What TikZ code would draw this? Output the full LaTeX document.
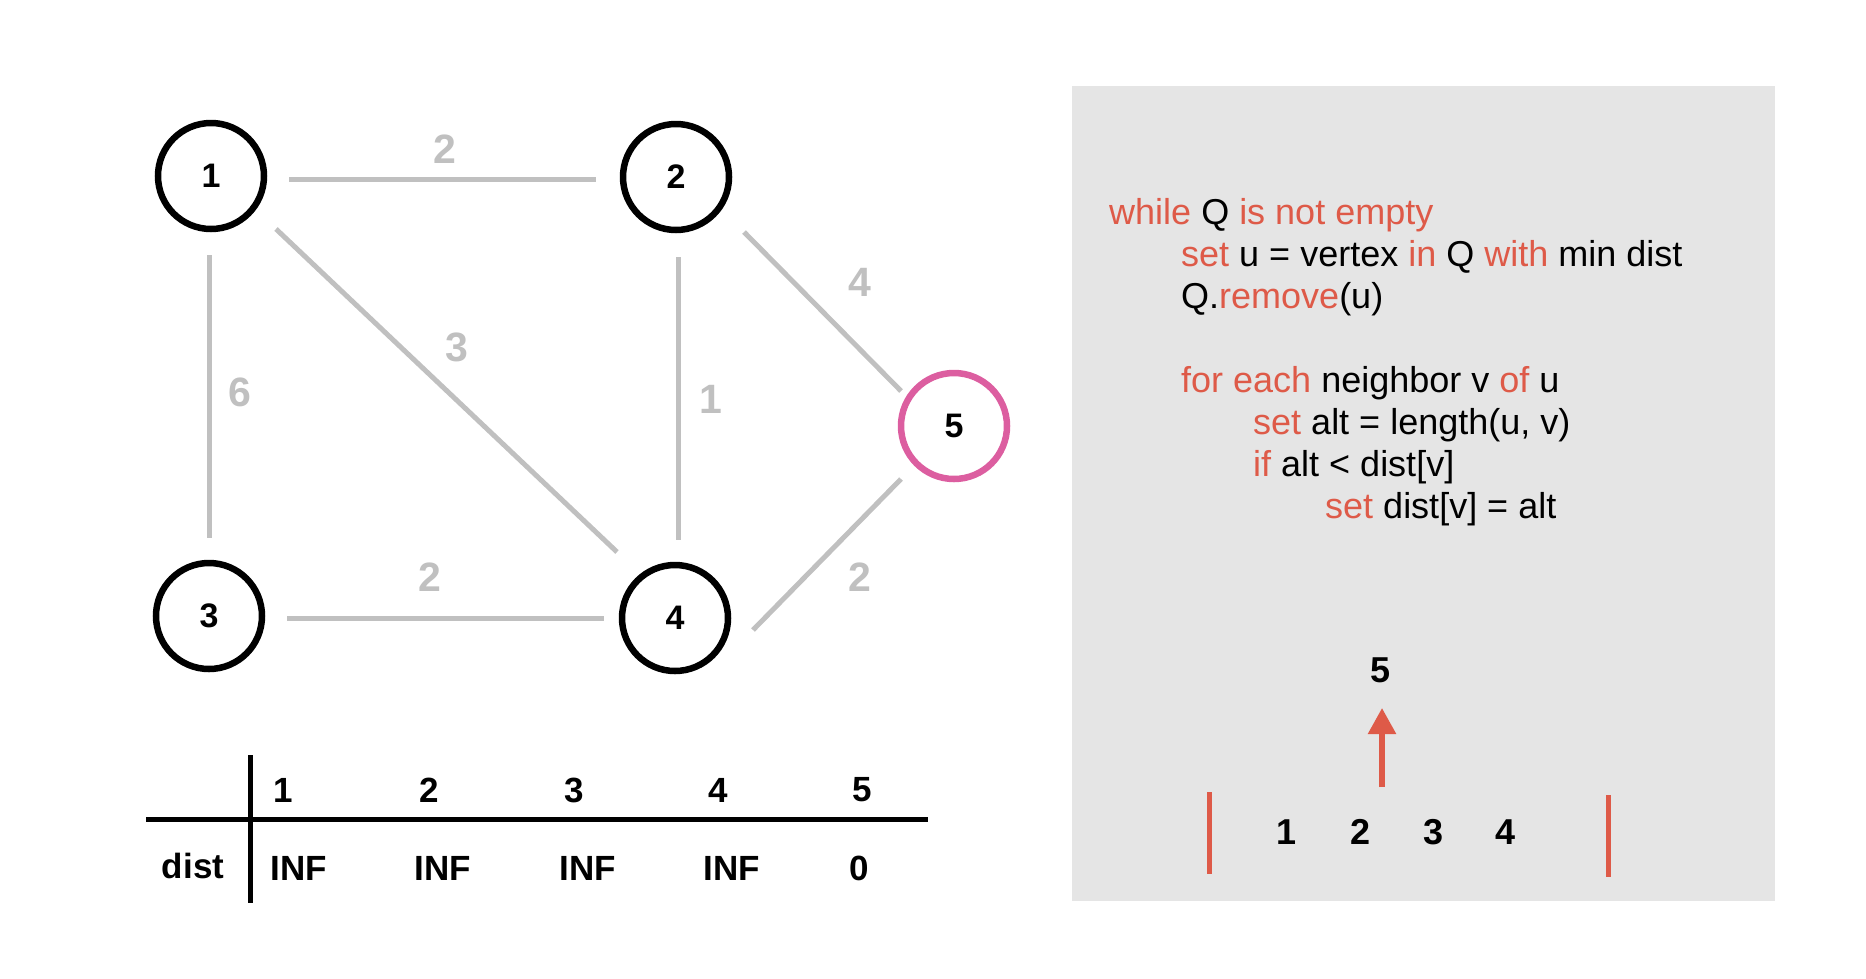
\documentclass[tikz,border=0pt]{standalone}
\usepackage{fontspec}
\setmainfont{Liberation Sans}
\usetikzlibrary{arrows.meta,calc}
\definecolor{codered}{HTML}{DE5A48}
\definecolor{pinkring}{HTML}{DC5EA0}
\definecolor{edgegrey}{HTML}{C0C0C0}
\definecolor{panelgrey}{HTML}{E5E5E5}
\begin{document}
\begin{tikzpicture}[x=1pt,y=-1pt,
  vert/.style={circle,draw=black,line width=6.5pt,minimum size=106pt,inner sep=0pt,
    font=\fontsize{34}{34}\selectfont\bfseries},
  edge/.style={draw=edgegrey,line width=5pt},
  wlabel/.style={text=edgegrey,font=\fontsize{41}{41}\selectfont\bfseries,inner sep=0pt},
  tabtext/.style={font=\fontsize{35}{35}\selectfont\bfseries,inner sep=0pt},
  tabline/.style={draw=black,line width=5pt},
  codeline/.style={anchor=base west,inner sep=0pt,font=\fontsize{36}{36}\selectfont},
  qnum/.style={font=\fontsize{36}{36}\selectfont\bfseries,inner sep=0pt},
  qbar/.style={draw=codered,line width=5pt}
]
\useasboundingbox (0,0) rectangle (1866,978);
\newcommand{\kw}[1]{\textcolor{codered}{#1}}

% panel
\fill[panelgrey] (1072,86) rectangle (1775,901);

% vertices
\node[vert] (n1) at (211,176) {1};
\node[vert] (n2) at (676,177) {2};
\node[vert] (n3) at (209,616) {3};
\node[vert] (n4) at (675,618) {4};
\node[vert,draw=pinkring] (n5) at (954,426) {5};

% edges
\draw[edge] ($(n1)+(78,3)$) -- ($(n2)+(-80,2)$);
\draw[edge] ($(n1)+(-2,79)$) -- ($(n3)+(0,-78)$);
\draw[edge] ($(n1)+(65,53)$) -- ($(n4)+(-58,-66)$);
\draw[edge] ($(n2)+(2,80)$) -- ($(n4)+(3,-78)$);
\draw[edge] ($(n2)+(68,55)$) -- ($(n5)+(-53,-35)$);
\draw[edge] ($(n3)+(78,2)$) -- ($(n4)+(-71,0)$);
\draw[edge] ($(n4)+(78,12)$) -- ($(n5)+(-53,53)$);

% weights
\node[wlabel] (w12) at (445,149) {2};
\node[wlabel] (w13) at (240,392) {6};
\node[wlabel] (w14) at (457,347) {3};
\node[wlabel] (w24) at (711,399) {1};
\node[wlabel] (w25) at (860,282) {4};
\node[wlabel] (w34) at (430,577) {2};
\node[wlabel] (w45) at (860,577) {2};

% table
\coordinate (vt) at (250,755);
\coordinate (vb) at (250,903);
\coordinate (hl) at (146,819);
\coordinate (hr) at (928,819);
\draw[tabline] (vt) -- (vb);
\draw[tabline] (hl) -- (hr);
\node[tabtext] (h1) at (283,790) {1};
\node[tabtext] (h2) at (429,790) {2};
\node[tabtext] (h3) at (574,790) {3};
\node[tabtext] (h4) at (718,790) {4};
\node[tabtext] (h5) at (862,790) {5};
\node[tabtext] (dl) at (193,866) {dist};
\node[tabtext] (d1) at (299,868) {INF};
\node[tabtext] (d2) at (443,868) {INF};
\node[tabtext] (d3) at (588,868) {INF};
\node[tabtext] (d4) at (732,868) {INF};
\node[tabtext] (d5) at (859,868) {0};

% code
\node[codeline] (c1) at (1109,224) {\kw{while} Q \kw{is not empty}};
\node[codeline] (c2) at (1181,266) {\kw{set} u = vertex \kw{in} Q \kw{with} min dist};
\node[codeline] (c3) at (1181,308) {Q.\kw{remove}(u)};
\node[codeline] (c4) at (1181,392) {\kw{for each} neighbor v \kw{of} u};
\node[codeline] (c5) at (1253,434) {\kw{set} alt = length(u, v)};
\node[codeline] (c6) at (1253,476) {\kw{if} alt < dist[v]};
\node[codeline] (c7) at (1325,518) {\kw{set} dist[v] = alt};

% queue
\coordinate (bl1) at (1209,792);
\coordinate (bl2) at (1209,874);
\coordinate (br1) at (1608,795);
\coordinate (br2) at (1608,877);
\draw[qbar] (bl1) -- (bl2);
\draw[qbar] (br1) -- (br2);
\node[qnum] (q1) at (1286,832) {1};
\node[qnum] (q2) at (1360,832) {2};
\node[qnum] (q3) at (1433,832) {3};
\node[qnum] (q4) at (1505,832) {4};
\node[qnum] (q5) at (1380,670) {5};
\coordinate (ab) at (1382,787);
\coordinate (at) at (1382,708);
\draw[draw=codered,line width=5.5pt,-{Triangle[width=27pt,length=26pt]},color=codered] (ab) -- (at);
\end{tikzpicture}
\end{document}
